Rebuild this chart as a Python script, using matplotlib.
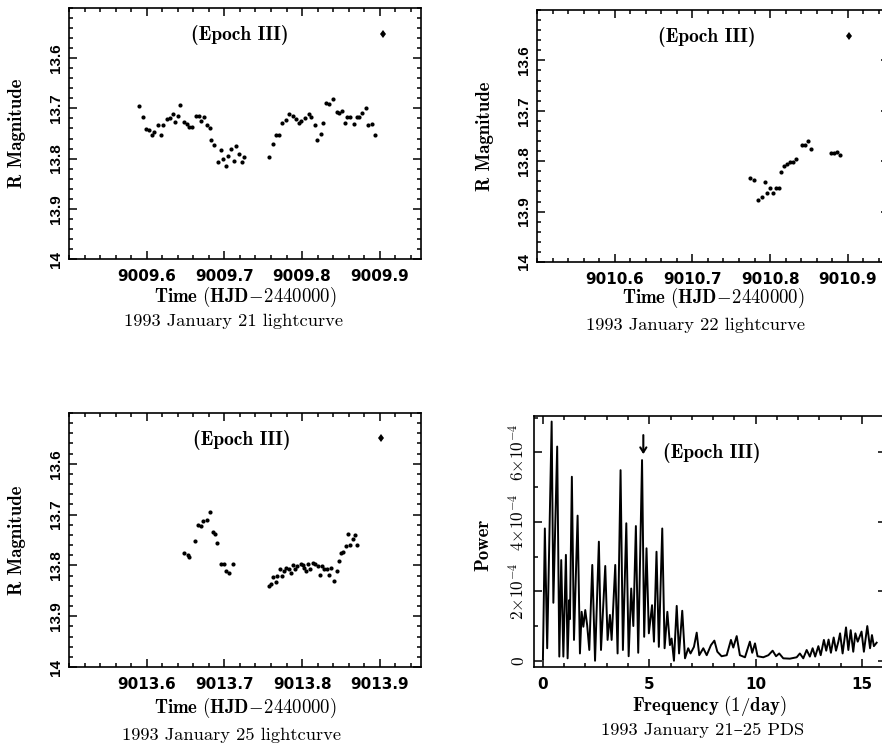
import matplotlib
matplotlib.use("Agg")
import matplotlib.pyplot as plt
from matplotlib.ticker import MultipleLocator, FixedLocator
import numpy as np

plt.rcParams['mathtext.fontset'] = 'cm'

# ---------------- data ----------------
t1 = [9009.5905, 9009.5948, 9009.599, 9009.6034, 9009.6065, 9009.610, 9009.614, 9009.6185,
      9009.6215, 9009.626, 9009.630, 9009.6335, 9009.6366, 9009.640, 9009.643, 9009.6486,
      9009.652, 9009.655, 9009.6585, 9009.663, 9009.667, 9009.670, 9009.674, 9009.6774,
      9009.681, 9009.683, 9009.687, 9009.6916, 9009.6955, 9009.698, 9009.7015, 9009.705,
      9009.708, 9009.712, 9009.715, 9009.719, 9009.7226, 9009.7256,
      9009.758, 9009.7626, 9009.766, 9009.770, 9009.7746, 9009.7798, 9009.7837, 9009.788,
      9009.7927, 9009.7957, 9009.799, 9009.8034, 9009.8086, 9009.812, 9009.816, 9009.8194,
      9009.8237, 9009.8275, 9009.8305, 9009.835, 9009.8396, 9009.8443, 9009.8473, 9009.8507,
      9009.855, 9009.858, 9009.862, 9009.8667, 9009.870, 9009.8735, 9009.8774, 9009.8817,
      9009.885, 9009.8895, 9009.8938]
m1 = [13.695, 13.718, 13.742, 13.744, 13.753, 13.747, 13.733, 13.753,
      13.734, 13.722, 13.719, 13.712, 13.727, 13.715, 13.693, 13.728,
      13.732, 13.737, 13.737, 13.715, 13.715, 13.725, 13.717, 13.733,
      13.740, 13.762, 13.772, 13.807, 13.782, 13.801, 13.815, 13.795,
      13.781, 13.805, 13.774, 13.790, 13.806, 13.796,
      13.796, 13.771, 13.753, 13.753, 13.729, 13.723, 13.712, 13.715,
      13.721, 13.730, 13.725, 13.719, 13.711, 13.718, 13.733, 13.763,
      13.750, 13.729, 13.689, 13.691, 13.681, 13.707, 13.709, 13.705,
      13.729, 13.718, 13.717, 13.732, 13.717, 13.718, 13.709, 13.700,
      13.733, 13.731, 13.753]

t2 = [9010.7746, 9010.7797, 9010.7845, 9010.789, 9010.793, 9010.796, 9010.7996, 9010.804,
      9010.807, 9010.811, 9010.814, 9010.8185, 9010.8216, 9010.826, 9010.829, 9010.8336,
      9010.841, 9010.8444, 9010.8487, 9010.852, 9010.879, 9010.882, 9010.8858, 9010.8897]
m2 = [13.833, 13.837, 13.876, 13.871, 13.842, 13.863, 13.854, 13.864,
      13.854, 13.854, 13.821, 13.810, 13.806, 13.802, 13.801, 13.795,
      13.768, 13.768, 13.760, 13.775, 13.783, 13.784, 13.781, 13.788]

t3 = [9013.6479, 9013.6526, 9013.655, 9013.662, 9013.6662, 9013.6705, 9013.672, 9013.677,
      9013.682, 9013.685, 9013.6885, 9013.691, 9013.696, 9013.6996, 9013.7026, 9013.706,
      9013.711,
      9013.758, 9013.760, 9013.7624, 9013.766, 9013.768, 9013.771, 9013.774, 9013.7765,
      9013.7795, 9013.7825, 9013.786, 9013.788, 9013.791, 9013.794, 9013.798, 9013.801,
      9013.803, 9013.805, 9013.808, 9013.8107, 9013.8137, 9013.8167, 9013.820, 9013.823,
      9013.826, 9013.8286, 9013.832, 9013.835, 9013.837, 9013.8415, 9013.845, 9013.848,
      9013.850, 9013.853, 9013.856, 9013.8594, 9013.862, 9013.865, 9013.868, 9013.8705]
m3 = [13.776, 13.779, 13.783, 13.751, 13.720, 13.722, 13.713, 13.710,
      13.695, 13.734, 13.738, 13.756, 13.797, 13.797, 13.811, 13.815,
      13.797,
      13.841, 13.837, 13.823, 13.833, 13.820, 13.808, 13.821, 13.811,
      13.805, 13.808, 13.815, 13.800, 13.807, 13.801, 13.797, 13.799,
      13.805, 13.811, 13.797, 13.808, 13.795, 13.798, 13.801, 13.818,
      13.801, 13.808, 13.807, 13.819, 13.805, 13.830, 13.811, 13.791,
      13.775, 13.774, 13.761, 13.738, 13.759, 13.748, 13.741, 13.759]

# representative error-bar points (time, magnitude)
err_t = [9009.904, 9010.9017, 9013.902]
err_m = [13.551, 13.552, 13.549]

freq = [0.0, 0.09, 0.2, 0.41, 0.49, 0.67, 0.77, 0.86, 0.96, 1.08,
        1.16, 1.24, 1.27, 1.36, 1.46, 1.63, 1.74, 1.82, 1.9, 1.99,
        2.08, 2.18, 2.32, 2.45, 2.63, 2.73, 2.93, 3.04, 3.15, 3.23,
        3.4, 3.51, 3.65, 3.76, 3.92, 4.03, 4.15, 4.25, 4.37, 4.48,
        4.66, 4.76, 4.87, 4.98, 5.13, 5.22, 5.34, 5.45, 5.61, 5.72,
        5.85, 5.97, 6.05, 6.16, 6.29, 6.4, 6.55, 6.68, 6.83, 6.94,
        7.1, 7.23, 7.35, 7.54, 7.7, 7.9, 8.06, 8.2, 8.4, 8.64,
        8.84, 8.95, 9.11, 9.26, 9.5, 9.73, 9.84, 9.97, 10.09, 10.36,
        10.6, 10.8, 10.96, 11.11, 11.3, 11.61, 11.93, 12.08, 12.24, 12.4,
        12.55, 12.68, 12.8, 12.95, 13.06, 13.21, 13.32, 13.43, 13.54, 13.67,
        13.78, 13.89, 13.97, 14.09, 14.25, 14.36, 14.47, 14.59, 14.69, 14.8,
        14.98, 15.09, 15.25, 15.38, 15.47, 15.56, 15.69]
power_e4 = [0.05, 3.81, 0.36, 6.89, 1.67, 6.17, 0.12, 2.9, 0.12, 3.05,
            0.07, 1.75, 1.2, 5.3, 0.6, 4.18, 0.21, 1.41, 0.98, 1.46,
            1.02, 0.31, 2.76, 0.0, 3.43, 0.31, 2.73, 0.6, 1.32, 0.6,
            2.76, 0.21, 5.49, 0.31, 3.96, 0.13, 2.08, 1.0, 3.88, 0.23,
            5.78, 0.69, 3.24, 0.79, 1.6, 0.55, 3.14, 0.4, 3.81, 0.36,
            1.41, 0.45, 0.64, 0.0, 1.58, 0.21, 1.44, 0.07, 0.36, 0.21,
            0.4, 0.81, 0.16, 0.36, 0.16, 0.45, 0.58, 0.26, 0.13, 0.16,
            0.6, 0.38, 0.71, 0.16, 0.1, 0.55, 0.23, 0.5, 0.13, 0.1,
            0.16, 0.29, 0.13, 0.21, 0.07, 0.06, 0.1, 0.21, 0.07, 0.31,
            0.12, 0.36, 0.12, 0.42, 0.16, 0.6, 0.29, 0.61, 0.23, 0.67,
            0.29, 0.55, 0.79, 0.21, 0.96, 0.31, 0.88, 0.26, 0.79, 0.55,
            0.84, 0.26, 1.0, 0.36, 0.74, 0.42, 0.52]
power = [p * 1e-4 for p in power_e4]

mag_ticks = [13.6, 13.7, 13.8, 13.9, 14.0]
mag_labels = ['13.6', '13.7', '13.8', '13.9', '14']
pow_ticks = [0, 2e-4, 4e-4, 6e-4]
pow_labels = [r'$\mathbf{0}$', r'$\mathbf{2{\times}10^{-4}}$',
              r'$\mathbf{4{\times}10^{-4}}$', r'$\mathbf{6{\times}10^{-4}}$']
captions = ['1993 January 21 lightcurve', '1993 January 22 lightcurve',
            '1993 January 25 lightcurve', '1993 January 21\u201325 PDS']

# ---------------- figure ----------------
W, H = 882, 750
fig = plt.figure(figsize=(W / 100, H / 100), dpi=100)

BOLD = ['cmb10', 'DejaVu Serif']
REG = ['cmr10', 'DejaVu Serif']
XTICKF = dict(family='DejaVu Sans', weight='bold', size=11)
YTICKF = dict(family='Liberation Sans', weight='bold', size=11)


def ax_px(l, t, w, h):
    return fig.add_axes([l / W, 1 - (t + h) / H, w / W, h / H])


def ftext(x, y, s, **kw):
    fig.text(x / W, 1 - y / H, s, ha='center', va='center', **kw)


def style(ax):
    for sp in ax.spines.values():
        sp.set_linewidth(1.2)
    ax.tick_params(which='both', direction='in', top=True, right=True, width=1.1)
    ax.tick_params(which='major', length=6)
    ax.tick_params(which='minor', length=3)
    ax.tick_params(axis='x', pad=7)
    ax.tick_params(axis='y', pad=4)


def lc_panel(ax, t, m, x0, ex, em, tx):
    ax.plot(t, m, 'o', color='black', ms=3.0, mew=0)
    ax.plot([ex], [em], marker='d', color='black', ms=4.5, mew=0, ls='none')
    ax.set_xlim(x0, x0 + 0.453)
    ax.set_ylim(14.0, 13.5)
    ax.xaxis.set_major_locator(MultipleLocator(0.1))
    ax.xaxis.set_minor_locator(MultipleLocator(0.02))
    ax.yaxis.set_major_locator(FixedLocator(mag_ticks))
    ax.yaxis.set_minor_locator(MultipleLocator(0.02))
    style(ax)
    xt = [x0 + 0.1 * k for k in range(1, 5)]
    ax.set_xticks(xt)
    ax.set_xticklabels(['%.1f' % v for v in xt], fontdict=XTICKF)
    ax.set_yticks(mag_ticks)
    ax.set_yticklabels(mag_labels, fontdict=YTICKF, rotation=90, va='center')
    ax.text(tx, 13.553, '(Epoch III)', ha='center', va='center',
            family=BOLD, size=14)


# panel 1
ax1 = ax_px(69, 8, 352, 251)
lc_panel(ax1, t1, m1, 9009.5, err_t[0], err_m[0], 9009.72)
# panel 2
ax2 = ax_px(537, 10, 352, 252)
lc_panel(ax2, t2, m2, 9010.5, err_t[1], err_m[1], 9010.719)
# panel 3
ax3 = ax_px(69, 413, 352, 254)
lc_panel(ax3, t3, m3, 9013.5, err_t[2], err_m[2], 9013.722)

# panel 4 (power spectrum)
ax4 = ax_px(534, 416, 352, 251)
ax4.plot(freq, power, color='black', lw=1.4)
ax4.set_xlim(-0.42, 16.13)
ax4.set_ylim(-0.18e-4, 7.05e-4)
ax4.xaxis.set_major_locator(MultipleLocator(5))
ax4.xaxis.set_minor_locator(MultipleLocator(1))
ax4.yaxis.set_major_locator(FixedLocator(pow_ticks))
ax4.yaxis.set_minor_locator(MultipleLocator(1e-4))
style(ax4)
ax4.set_xticks([0, 5, 10, 15])
ax4.set_xticklabels(['0', '5', '10', '15'], fontdict=XTICKF)
ax4.set_yticks(pow_ticks)
ax4.set_yticklabels(pow_labels, fontdict=dict(size=12.5), rotation=90, va='center')
ax4.annotate('', xy=(4.72, 5.95e-4), xytext=(4.72, 6.5e-4),
             arrowprops=dict(arrowstyle='->,head_length=0.35,head_width=0.22', lw=1.5,
                             color='black', shrinkA=0, shrinkB=0))
ax4.text(7.95, 5.98e-4, '(Epoch III)', ha='center', va='center', family=BOLD, size=14)

# axis labels
time_lab = r'$\mathbf{Time\ (HJD\!-\!2440000)}$'
ftext(245, 297, time_lab, size=13.5)
ftext(713, 298, time_lab, size=13.5)
ftext(245, 708, time_lab, size=13.5)
ftext(709, 706, r'$\mathbf{Frequency\ (1/day)}$', size=13.5)

ftext(17, 133, 'R Magnitude', family=BOLD, size=13.5, rotation=90)
ftext(485, 136, 'R Magnitude', family=BOLD, size=13.5, rotation=90)
ftext(17, 540, 'R Magnitude', family=BOLD, size=13.5, rotation=90)
ftext(483, 545, 'Power', family=BOLD, size=13.5, rotation=90)

# captions
ftext(233, 321, captions[0], family=REG, size=13.3)
ftext(695, 325, captions[1], family=REG, size=13.3)
ftext(232, 735, captions[2], family=REG, size=13.3)
ftext(703, 730, captions[3], family=REG, size=13.3)

fig.savefig('out.png', dpi=100)
